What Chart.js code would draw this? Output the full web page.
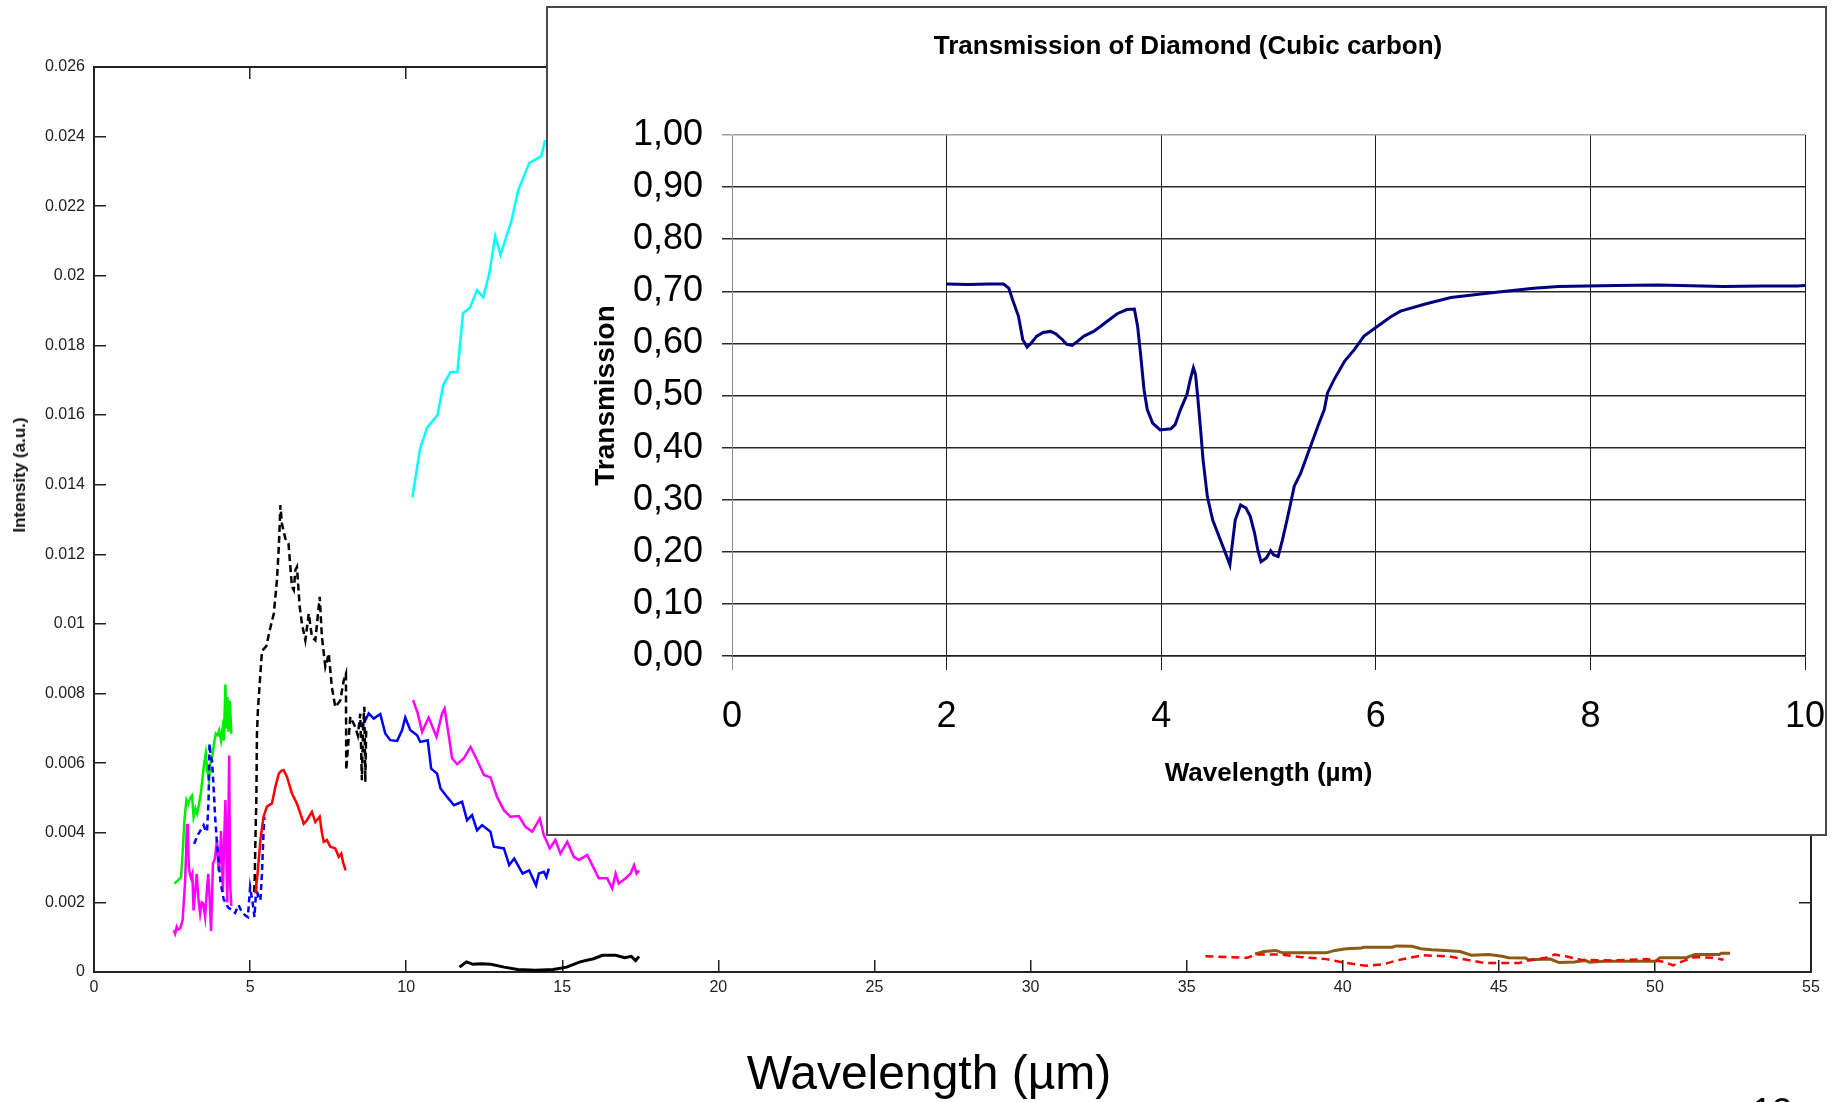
<!DOCTYPE html>
<html>
<head>
<meta charset="utf-8">
<title>IR spectra and diamond transmission</title>
<script src="https://cdn.jsdelivr.net/npm/chart.js@4/dist/chart.umd.min.js"></script>
<style>
  html, body { margin: 0; padding: 0; background: #fff; }
  #page { position: relative; width: 1838px; height: 1102px; overflow: hidden; background: #fff;
          font-family: 'Liberation Sans', Arial, sans-serif; }
  #mainChart { position: absolute; left: 0; top: 0; }
  #intensityLabel { position: absolute; left: 20px; top: 475px; transform: translate(-50%, -50%) rotate(-90deg);
                    font-weight: bold; font-size: 17px; white-space: nowrap; color: #111; }
  #inset { position: absolute; left: 546px; top: 6px; width: 1281px; height: 830px; box-sizing: border-box;
           border: 2px solid #4a4a4a; background: #fff; }
  #insetChart { position: absolute; left: 0; top: 0; }
  #wavelengthLabel { position: absolute; left: 929px; top: 1049px; transform: translateX(-50%);
                     font-size: 48px; line-height: 48px; white-space: nowrap; color: #000; }
  #slideNo { position: absolute; left: 1752px; top: 1094px; font-size: 36px; line-height: 36px; color: #000; }
</style>
</head>
<body>
<div id="page">
  <canvas id="mainChart" width="1838" height="1102"></canvas>
  <div id="intensityLabel">Intensity (a.u.)</div>
  <div id="inset"><canvas id="insetChart" width="1277" height="826"></canvas></div>
  <div id="wavelengthLabel">Wavelength (µm)</div>
  <div id="slideNo">12</div>
</div>
<script>
// ---- emission spectra, [wavelength µm, intensity a.u.] ----
const greenSpec = [[2.57,0.00254],[2.64,0.00259],[2.72,0.00266],[2.79,0.00273],[2.85,0.00360],[2.90,0.00440],[2.96,0.00494],
  [3.02,0.00482],[3.08,0.00500],[3.14,0.00507],[3.19,0.00446],[3.25,0.00470],[3.30,0.00455],[3.36,0.00480],[3.42,0.00512],
  [3.48,0.00560],[3.53,0.00600],[3.58,0.00628],[3.63,0.00580],[3.68,0.00551],[3.73,0.00600],[3.79,0.00620],[3.85,0.00660],
  [3.90,0.00685],[3.96,0.00680],[4.01,0.00694],[4.07,0.00665],[4.12,0.00700],[4.16,0.00665],[4.21,0.00826],[4.24,0.00700],
  [4.27,0.00790],[4.31,0.00690],[4.35,0.00780],[4.40,0.00684]];

const blueDashSpec = [[3.21,0.00368],[3.30,0.00390],[3.40,0.00405],[3.51,0.00422],[3.57,0.00407],[3.62,0.00403],[3.67,0.00494],
  [3.70,0.00656],[3.74,0.00620],[3.78,0.00608],[3.83,0.00532],[3.88,0.00446],[3.93,0.00380],[3.98,0.00330],[4.05,0.00260],
  [4.15,0.00210],[4.30,0.00185],[4.42,0.00178],[4.52,0.00170],[4.63,0.00192],[4.72,0.00175],[4.84,0.00163],[4.93,0.00158],
  [5.00,0.00244],[5.08,0.00200],[5.14,0.00158],[5.20,0.00244],[5.26,0.00215],[5.33,0.00206],[5.38,0.00283],[5.43,0.00400],
  [5.46,0.00446]];

const magentaShortSpec = [[2.55,0.00120],[2.60,0.00110],[2.65,0.00130],[2.70,0.00122],[2.76,0.00125],[2.84,0.00149],[2.92,0.00263],
  [2.98,0.00426],[3.01,0.00380],[3.04,0.00300],[3.07,0.00282],[3.11,0.00270],[3.15,0.00282],[3.19,0.00177],[3.24,0.00230],
  [3.29,0.00282],[3.35,0.00206],[3.40,0.00168],[3.45,0.00200],[3.50,0.00197],[3.56,0.00158],[3.62,0.00240],[3.66,0.00282],
  [3.71,0.00200],[3.75,0.00118],[3.81,0.00311],[3.87,0.00325],[3.94,0.00379],[3.99,0.00290],[4.04,0.00330],[4.07,0.00405],
  [4.13,0.00230],[4.17,0.00380],[4.21,0.00494],[4.27,0.00200],[4.33,0.00622],[4.36,0.00250],[4.40,0.00190]];

const redSpec = [[5.17,0.00226],[5.24,0.00283],[5.33,0.00379],[5.43,0.00446],[5.54,0.00475],[5.62,0.00480],[5.70,0.00484],
  [5.81,0.00532],[5.92,0.00570],[6.00,0.00578],[6.07,0.00580],[6.18,0.00561],[6.34,0.00513],[6.50,0.00484],[6.61,0.00455],
  [6.72,0.00426],[6.82,0.00436],[6.98,0.00460],[7.09,0.00431],[7.23,0.00446],[7.30,0.00400],[7.36,0.00374],[7.46,0.00379],
  [7.57,0.00360],[7.73,0.00355],[7.84,0.00331],[7.92,0.00340],[7.98,0.00315],[8.06,0.00292]];

const blackDashSpec = [[5.13,0.00230],[5.15,0.00273],[5.17,0.00379],[5.20,0.00494],[5.22,0.00685],[5.25,0.00752],[5.30,0.00818],
  [5.38,0.00922],[5.52,0.00936],[5.63,0.00982],[5.76,0.01030],[5.86,0.01126],[5.92,0.01222],[5.95,0.01288],[5.97,0.01341],
  [6.02,0.01288],[6.13,0.01245],[6.23,0.01231],[6.29,0.01164],[6.34,0.01107],[6.40,0.01097],[6.45,0.01155],[6.50,0.01164],
  [6.59,0.01049],[6.66,0.01001],[6.77,0.00953],[6.88,0.01030],[6.98,0.00963],[7.09,0.00953],[7.23,0.01078],[7.30,0.00963],
  [7.41,0.00877],[7.52,0.00915],[7.62,0.00818],[7.73,0.00761],[7.89,0.00780],[8.00,0.00838],[8.07,0.00857],[8.08,0.00580],
  [8.21,0.00733],[8.37,0.00704],[8.45,0.00680],[8.53,0.00742],[8.58,0.00551],[8.62,0.00700],[8.66,0.00762],[8.69,0.00546],
  [8.72,0.00700]];

const blueSpec = [[8.53,0.00704],[8.69,0.00723],[8.80,0.00743],[8.96,0.00728],[9.17,0.00741],[9.33,0.00685],[9.49,0.00666],
  [9.71,0.00664],[9.87,0.00695],[9.97,0.00731],[10.13,0.00695],[10.35,0.00680],[10.45,0.00661],[10.69,0.00666],[10.80,0.00584],
  [10.99,0.00570],[11.10,0.00527],[11.31,0.00503],[11.53,0.00479],[11.79,0.00489],[11.95,0.00436],[12.11,0.00451],
  [12.27,0.00407],[12.43,0.00422],[12.70,0.00403],[12.81,0.00360],[13.13,0.00355],[13.30,0.00307],[13.46,0.00326],
  [13.73,0.00283],[13.94,0.00292],[14.16,0.00249],[14.25,0.00283],[14.41,0.00288],[14.49,0.00273],[14.57,0.00297]];

const magentaSpec = [[10.22,0.00781],[10.37,0.00743],[10.51,0.00690],[10.72,0.00731],[10.97,0.00676],[11.15,0.00743],
  [11.23,0.00757],[11.37,0.00676],[11.47,0.00614],[11.63,0.00597],[11.85,0.00614],[12.06,0.00647],[12.27,0.00609],
  [12.49,0.00566],[12.70,0.00559],[12.91,0.00503],[13.13,0.00465],[13.34,0.00446],[13.61,0.00448],[13.82,0.00417],
  [14.04,0.00403],[14.28,0.00441],[14.41,0.00393],[14.60,0.00355],[14.78,0.00379],[14.94,0.00340],[15.16,0.00374],
  [15.37,0.00331],[15.53,0.00322],[15.80,0.00336],[15.96,0.00307],[16.17,0.00269],[16.44,0.00269],[16.60,0.00240],
  [16.71,0.00283],[16.81,0.00254],[17.03,0.00269],[17.19,0.00283],[17.30,0.00307],[17.38,0.00283],[17.46,0.00292]];

const cyanSpec = [[10.20,0.01364],[10.44,0.01502],[10.67,0.01564],[11.00,0.01600],[11.19,0.01687],[11.42,0.01724],
  [11.64,0.01724],[11.82,0.01893],[12.04,0.01908],[12.27,0.01959],[12.47,0.01938],[12.67,0.02010],[12.85,0.02114],
  [13.02,0.02060],[13.36,0.02154],[13.59,0.02246],[13.94,0.02324],[14.33,0.02344],[14.45,0.02390]];

const blackSpec = [[11.71,0.00014],[11.93,0.00029],[12.14,0.00022],[12.40,0.00024],[12.71,0.00022],[13.14,0.00014],
  [13.57,0.00007],[14.14,0.00005],[14.71,0.00007],[15.14,0.00014],[15.57,0.00029],[16.00,0.00038],[16.29,0.00048],
  [16.71,0.00048],[17.00,0.00041],[17.21,0.00045],[17.35,0.00033],[17.46,0.00045]];

const brownSpec = [[37.19,0.00052],[37.48,0.00059],[37.86,0.00062],[38.07,0.00055],[39.47,0.00055],[39.75,0.00062],
  [40.11,0.00067],[40.60,0.00069],[40.67,0.00071],[41.58,0.00071],[41.72,0.00075],[42.22,0.00074],[42.50,0.00067],
  [42.85,0.00064],[43.27,0.00062],[43.76,0.00059],[44.12,0.00048],[44.68,0.00050],[45.10,0.00045],[45.31,0.00041],
  [45.87,0.00040],[45.94,0.00035],[46.65,0.00037],[46.93,0.00027],[47.42,0.00029],[47.77,0.00033],[47.91,0.00028],
  [48.40,0.00031],[50.03,0.00031],[50.16,0.00041],[51.00,0.00041],[51.29,0.00050],[52.06,0.00050],[52.13,0.00054],
  [52.41,0.00054]];

const redDashSpec = [[35.60,0.00045],[36.94,0.00041],[37.22,0.00050],[38.07,0.00050],[38.63,0.00043],[39.47,0.00037],
  [40.04,0.00027],[40.74,0.00018],[41.30,0.00022],[41.72,0.00033],[42.15,0.00041],[42.57,0.00048],[43.41,0.00045],
  [43.97,0.00035],[44.54,0.00026],[45.66,0.00026],[45.94,0.00033],[46.50,0.00041],[46.79,0.00050],[47.14,0.00045],
  [47.63,0.00035],[48.61,0.00033],[49.73,0.00037],[50.30,0.00029],[50.58,0.00019],[50.86,0.00030],[51.29,0.00043],
  [51.85,0.00041],[52.20,0.00035]];

// ---- diamond transmission, [wavelength µm, transmission] ----
const diamondTrans = [[2.00,0.714],[2.20,0.713],[2.40,0.714],[2.53,0.714],[2.58,0.706],[2.62,0.681],[2.67,0.652],[2.71,0.607],
  [2.75,0.593],[2.79,0.601],[2.84,0.614],[2.90,0.621],[2.97,0.623],[3.02,0.618],[3.08,0.607],[3.12,0.598],[3.17,0.596],
  [3.22,0.604],[3.28,0.614],[3.37,0.623],[3.43,0.632],[3.50,0.643],[3.59,0.657],[3.68,0.665],[3.75,0.666],[3.78,0.633],
  [3.81,0.575],[3.84,0.511],[3.87,0.473],[3.92,0.447],[3.99,0.434],[4.09,0.436],[4.13,0.444],[4.18,0.473],[4.24,0.502],
  [4.27,0.530],[4.30,0.553],[4.32,0.540],[4.34,0.498],[4.37,0.428],[4.39,0.377],[4.43,0.306],[4.48,0.261],[4.54,0.229],
  [4.60,0.197],[4.64,0.175],[4.66,0.210],[4.69,0.261],[4.74,0.290],[4.79,0.284],[4.83,0.268],[4.87,0.236],[4.90,0.204],
  [4.93,0.181],[4.98,0.188],[5.02,0.202],[5.05,0.194],[5.09,0.191],[5.13,0.223],[5.18,0.268],[5.24,0.326],[5.30,0.351],
  [5.38,0.396],[5.46,0.441],[5.52,0.473],[5.55,0.505],[5.61,0.530],[5.71,0.566],[5.80,0.588],[5.89,0.614],[6.01,0.632],
  [6.14,0.651],[6.23,0.662],[6.47,0.676],[6.70,0.688],[7.08,0.697],[7.47,0.706],[7.70,0.709],[8.24,0.711],[8.63,0.712],
  [9.24,0.709],[9.60,0.710],[9.93,0.710],[10.00,0.711]];

const FONT = "'Liberation Sans', Arial, sans-serif";
Chart.defaults.font.family = FONT;

const toXY = pts => pts.map(([x, y]) => ({ x, y }));

// pin an axis box to a fixed size so the plot area lands where it should
function fixBox(size) {
  return scale => {
    if (scale.isHorizontal()) scale.height = size; else scale.width = size;
    scale.paddingLeft = scale.paddingRight = scale.paddingTop = scale.paddingBottom = 0;
  };
}

// first in list is drawn on top
const mainSeries = [
  { pts: redSpec, color: '#ff0000', width: 2.5 },
  { pts: blackDashSpec, color: '#000000', width: 2.5, dash: [7, 4] },
  { pts: blueDashSpec, color: '#0000ff', width: 2.5, dash: [6, 4] },
  { pts: magentaShortSpec, color: '#ff00ff', width: 2.5 },
  { pts: greenSpec, color: '#00ee00', width: 2.5 },
  { pts: blueSpec, color: '#0000ff', width: 2.5 },
  { pts: magentaSpec, color: '#ff00ff', width: 2.5 },
  { pts: cyanSpec, color: '#00ffff', width: 2.5 },
  { pts: blackSpec, color: '#000000', width: 3 },
  { pts: redDashSpec, color: '#ff0000', width: 2.5, dash: [8, 5] },
  { pts: brownSpec, color: '#8b5a14', width: 3 }
];

const axisInk = '#222';

new Chart(document.getElementById('mainChart'), {
  type: 'line',
  data: {
    datasets: mainSeries.map(s => ({
      data: toXY(s.pts),
      borderColor: s.color,
      borderWidth: s.width,
      borderDash: s.dash || [],
      pointRadius: 0,
      tension: 0,
      fill: false
    }))
  },
  options: {
    responsive: false,
    animation: false,
    events: [],
    layout: { padding: { top: 67, right: 27, left: 0, bottom: 0 } },
    plugins: { legend: { display: false }, tooltip: { enabled: false } },
    scales: {
      x: {
        type: 'linear', position: 'bottom', min: 0, max: 55,
        ticks: { stepSize: 5, padding: 18, color: axisInk, font: { size: 16 } },
        grid: { drawOnChartArea: false, tickLength: -12, color: axisInk, lineWidth: 1.5 },
        border: { color: axisInk, width: 2 },
        afterFit: fixBox(130)
      },
      y: {
        type: 'linear', position: 'left', min: 0, max: 0.026,
        ticks: { stepSize: 0.002, padding: 21, color: axisInk, font: { size: 16 },
                 callback: v => String(Math.round(v * 1000) / 1000) },
        grid: { drawOnChartArea: false, tickLength: -12, color: axisInk, lineWidth: 1.5 },
        border: { color: axisInk, width: 2 },
        afterFit: fixBox(94)
      },
      xTop: {
        type: 'linear', position: 'top', min: 0, max: 55,
        ticks: { display: false, stepSize: 5 },
        grid: { drawOnChartArea: false, tickLength: -12, color: axisInk, lineWidth: 1.5 },
        border: { color: axisInk, width: 2 },
        afterFit: fixBox(0)
      },
      yRight: {
        type: 'linear', position: 'right', min: 0, max: 0.026,
        ticks: { display: false, stepSize: 0.002 },
        grid: { drawOnChartArea: false, tickLength: -12, color: axisInk, lineWidth: 1.5 },
        border: { color: axisInk, width: 2 },
        afterFit: fixBox(0)
      }
    }
  }
});

// inset: diamond window transmission
new Chart(document.getElementById('insetChart'), {
  type: 'line',
  data: {
    datasets: [{
      data: toXY(diamondTrans),
      borderColor: '#000080',
      borderWidth: 3,
      pointRadius: 0,
      tension: 0,
      fill: false
    }]
  },
  options: {
    responsive: false,
    animation: false,
    events: [],
    layout: { padding: { left: 23, right: 20, top: 0, bottom: 0 } },
    plugins: {
      legend: { display: false },
      tooltip: { enabled: false },
      title: {
        display: true,
        text: 'Transmission of Diamond (Cubic carbon)',
        color: '#000',
        font: { size: 26, weight: 'bold' },
        padding: { top: 23.4, bottom: 72.4 }
      }
    },
    scales: {
      x: {
        type: 'linear', min: 0, max: 10,
        ticks: { stepSize: 2, padding: 25, color: '#000', font: { size: 36 } },
        grid: { color: c => (c.tick && c.tick.value === 0 ? '#8c8c8c' : '#1e1e1e'), lineWidth: 1, tickLength: 14 },
        border: { color: '#1e1e1e', width: 1.5 },
        title: { display: true, text: 'Wavelength (µm)', color: '#000',
                 font: { size: 26, weight: 'bold' }, padding: { top: 0, bottom: 45 } },
        afterFit: fixBox(178)
      },
      y: {
        type: 'linear', min: 0, max: 1,
        ticks: { stepSize: 0.1, padding: 19, color: '#000', font: { size: 36 },
                 callback: v => v.toFixed(2).replace('.', ',') },
        grid: { color: c => (c.tick && Math.abs(c.tick.value - 1) < 1e-9 ? '#a0a0a0' : '#2a2a2a'), lineWidth: 1.5, tickLength: 10 },
        border: { color: '#8c8c8c', width: 1 },
        title: { display: true, text: 'Transmission', color: '#000',
                 font: { size: 28, weight: 'bold' }, padding: { top: 18.2, bottom: 0 } },
        afterFit: fixBox(161)
      }
    }
  }
});
</script>
</body>
</html>
